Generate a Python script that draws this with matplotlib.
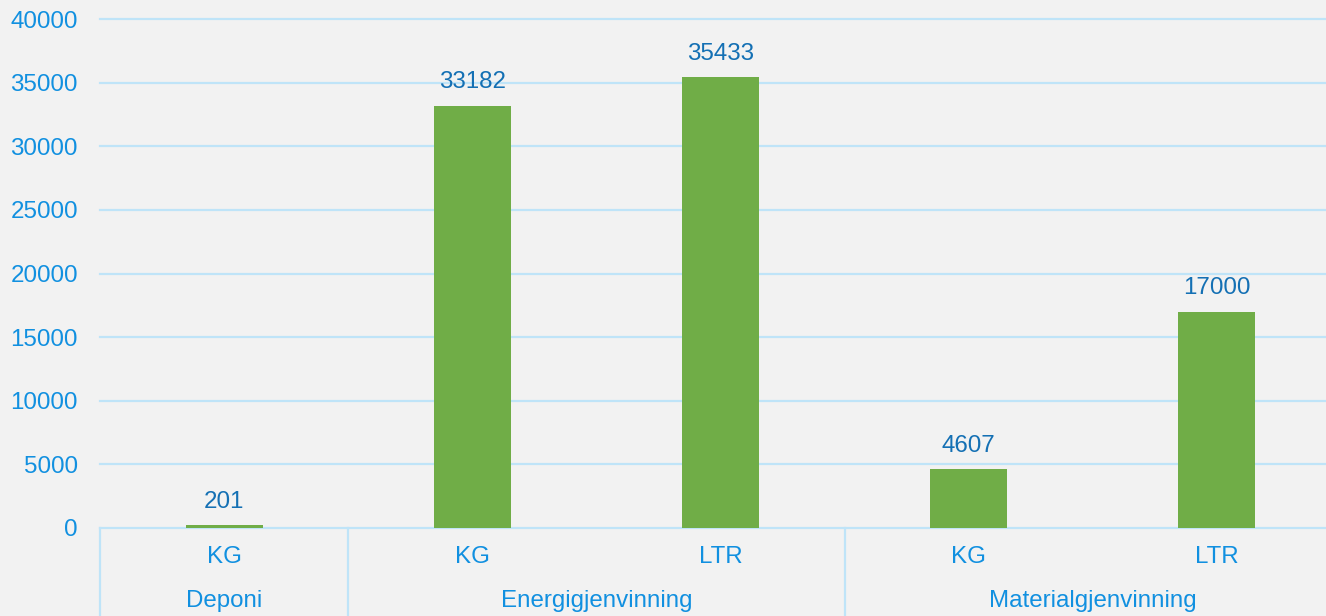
import matplotlib.pyplot as plt

# data
units = ["KG", "KG", "LTR", "KG", "LTR"]
groups = ["Deponi", "Energigjenvinning", "Materialgjenvinning"]
group_sizes = [1, 2, 2]
values = [201, 33182, 35433, 4607, 17000]
y_ticks = [0, 5000, 10000, 15000, 20000, 25000, 30000, 35000, 40000]

bg = "#f2f2f2"
bar_color = "#70ad47"
tick_color = "#1190e0"
label_color = "#1470b4"
grid_color = "#bfe4f8"
size = 17.4

plt.rcParams["font.family"] = ["Liberation Sans", "DejaVu Sans"]

fig = plt.figure(figsize=(13.26, 6.16), dpi=100, facecolor=bg)
# axes runs a little past the right edge, like the original
ax = fig.add_axes([100 / 1326, 88 / 616, 1241 / 1326, 509 / 616])
ax.set_facecolor(bg)

x = list(range(len(values)))
ax.bar(x, values, width=0.31, color=bar_color, zorder=3)

# value labels above the bars
for xi, v in zip(x, values):
    ax.annotate(str(v), (xi, v), xytext=(0, 9), textcoords="offset points",
                ha="center", va="bottom", fontsize=size, color=label_color)

ax.set_xlim(-0.5, len(values) - 0.5)
ax.set_ylim(0, 40000)
ax.set_yticks(y_ticks)
ax.set_yticklabels([str(t) for t in y_ticks])
ax.tick_params(axis="y", length=0, pad=16, labelsize=size, labelcolor=tick_color)
ax.set_xticks([])

# gridlines
for t in y_ticks[1:]:
    ax.axhline(t, color=grid_color, linewidth=1.6, zorder=1, clip_on=False)

for s in ["top", "right", "left"]:
    ax.spines[s].set_visible(False)
ax.spines["bottom"].set_color(grid_color)
ax.spines["bottom"].set_linewidth(1.6)

trans = ax.get_xaxis_transform()
bottom = -88 / 509

# category labels
for xi, u in zip(x, units):
    ax.text(xi, -29 / 509, u, transform=trans, ha="center", va="center",
            fontsize=size, color=tick_color)

# group labels and separator lines
start = 0
for g, n in zip(groups, group_sizes):
    left = start - 0.5
    right = start + n - 0.5
    ax.plot([left, left], [0, bottom], transform=trans, color=grid_color,
            linewidth=1.6, clip_on=False)
    ax.text((left + right) / 2, -73 / 509, g, transform=trans, ha="center",
            va="center", fontsize=size, color=tick_color)
    start += n
ax.plot([start - 0.5, start - 0.5], [0, bottom], transform=trans,
        color=grid_color, linewidth=1.6, clip_on=False)

fig.savefig("out.png", dpi=100, facecolor=bg)
